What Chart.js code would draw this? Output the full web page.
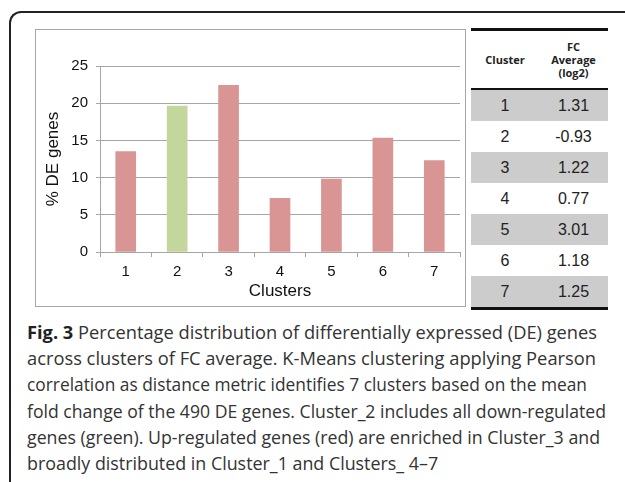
<!DOCTYPE html>
<html>
<head>
<meta charset="utf-8">
<script src="https://cdn.jsdelivr.net/npm/chart.js@4"></script>
<style>
  html, body { margin: 0; padding: 0; background: #fff; }
  body { width: 625px; height: 482px; position: relative; overflow: hidden; }
  #frame {
    position: absolute; left: 9px; top: 11px; width: 700px; height: 520px;
    border-top: 2px solid #222; border-left: 2px solid #222;
    border-top-left-radius: 12px;
  }
  #chartBox {
    position: absolute; left: 35px; top: 29px; width: 429px; height: 276px;
    border: 1px solid #a6a6a6;
  }
  #chartBox canvas { position: absolute; left: -1px; top: -1px; }
  #fcTable {
    position: absolute; left: 471px; top: 28px; width: 137px;
    border-collapse: collapse;
    border-top: 3px solid #111; border-bottom: 3px solid #111;
  }
  #fcTable th {
    font: bold 11px "Open Sans", sans-serif; color: #222;
    height: 57px; padding: 0; line-height: 13px;
    border-bottom: 2px solid #111; text-align: center; vertical-align: middle;
  }
  #fcTable td {
    font: 16px "Liberation Sans", Arial, sans-serif; color: #222;
    height: 31px; padding: 0; text-align: center;
  }
  #fcTable tr.shade td { background: #cccccc; }
  .capLine {
    position: absolute; left: 27px; white-space: nowrap;
    font: 18px "Open Sans", sans-serif; color: #333; line-height: 26px;
    transform-origin: 0 0;
  }
  .capLine b { font-weight: 700; color: #222; }
</style>
</head>
<body>
<div id="frame"></div>
<div id="chartBox"><canvas id="deChart" width="431" height="278"></canvas></div>
<table id="fcTable"></table>
<div id="caption"></div>

<script>
// chart data
const clusters = ["1", "2", "3", "4", "5", "6", "7"];
const pctDEGenes = [13.5, 19.6, 22.4, 7.2, 9.8, 15.3, 12.3];
const fcAverage = [1.31, -0.93, 1.22, 0.77, 3.01, 1.18, 1.25];
const yMax = 25;
const yStep = 5;

const captionLines = [
  "<b>Fig. 3</b> Percentage distribution of differentially expressed (DE) genes",
  "across clusters of FC average. K-Means clustering applying Pearson",
  "correlation as distance metric identifies 7 clusters based on the mean",
  "fold change of the 490 DE genes. Cluster_2 includes all down-regulated",
  "genes (green). Up-regulated genes (red) are enriched in Cluster_3 and",
  "broadly distributed in Cluster_1 and Clusters_ 4\u20137"
];

const upColor = "#d99594";
const downColor = "#c3d69b";
const gridColor = "#a6a6a6";

// table
const table = document.getElementById("fcTable");
let html = "<tr><th style='width:68px'>Cluster</th><th>FC<br>Average<br>(log2)</th></tr>";
clusters.forEach((c, i) => {
  html += "<tr class='" + (i % 2 === 0 ? "shade" : "") + "'><td>" + c + "</td><td>" +
    fcAverage[i].toFixed(2) + "</td></tr>";
});
table.innerHTML = html;

// caption: squeeze each line so it ends where the printed one does
const lineRight = [597, 596, 587, 606, 600];
const cap = document.getElementById("caption");
const lineEls = captionLines.map((txt, i) => {
  const d = document.createElement("div");
  d.className = "capLine";
  d.style.top = (319 + i * 26.2) + "px";
  d.innerHTML = txt;
  cap.appendChild(d);
  return d;
});
const scales = lineRight.map((r, i) => (r - 27) / lineEls[i].getBoundingClientRect().width);
const avgScale = scales.reduce((a, b) => a + b, 0) / scales.length;
lineEls.forEach((d, i) => {
  d.style.transform = "scaleX(" + (i < scales.length ? scales[i] : avgScale) + ")";
});

// chart
const ctx = document.getElementById("deChart");

new Chart(ctx, {
  type: "bar",
  data: {
    labels: clusters,
    datasets: [{
      data: pctDEGenes,
      backgroundColor: fcAverage.map(v => v < 0 ? downColor : upColor),
      borderWidth: 0,
      barThickness: 20
    }]
  },
  options: {
    responsive: false,
    animation: false,
    layout: {
      padding: { top: 37, right: 6, bottom: 0, left: 0 }
    },
    plugins: {
      legend: { display: false },
      tooltip: { enabled: false }
    },
    scales: {
      x: {
        afterFit: scale => { scale.height = 55; },
        grid: {
          drawOnChartArea: false,
          color: gridColor,
          tickLength: 5
        },
        border: { color: gridColor },
        ticks: {
          color: "#111",
          padding: 6,
          font: { family: "Liberation Sans", size: 15 }
        },
        title: {
          display: true,
          text: "Clusters",
          color: "#111",
          padding: { top: 0, bottom: 5 },
          font: { family: "Liberation Sans", size: 17 }
        }
      },
      y: {
        min: 0,
        max: yMax,
        afterFit: scale => { scale.width = 65; },
        grid: {
          color: gridColor,
          tickLength: 4
        },
        border: { color: gridColor },
        ticks: {
          stepSize: yStep,
          color: "#111",
          padding: 8,
          font: { family: "Liberation Sans", size: 15 }
        },
        title: {
          display: true,
          text: "% DE genes",
          color: "#111",
          padding: { top: 8, bottom: 0 },
          font: { family: "Liberation Sans", size: 17 }
        }
      }
    }
  }
});
</script>
</body>
</html>
